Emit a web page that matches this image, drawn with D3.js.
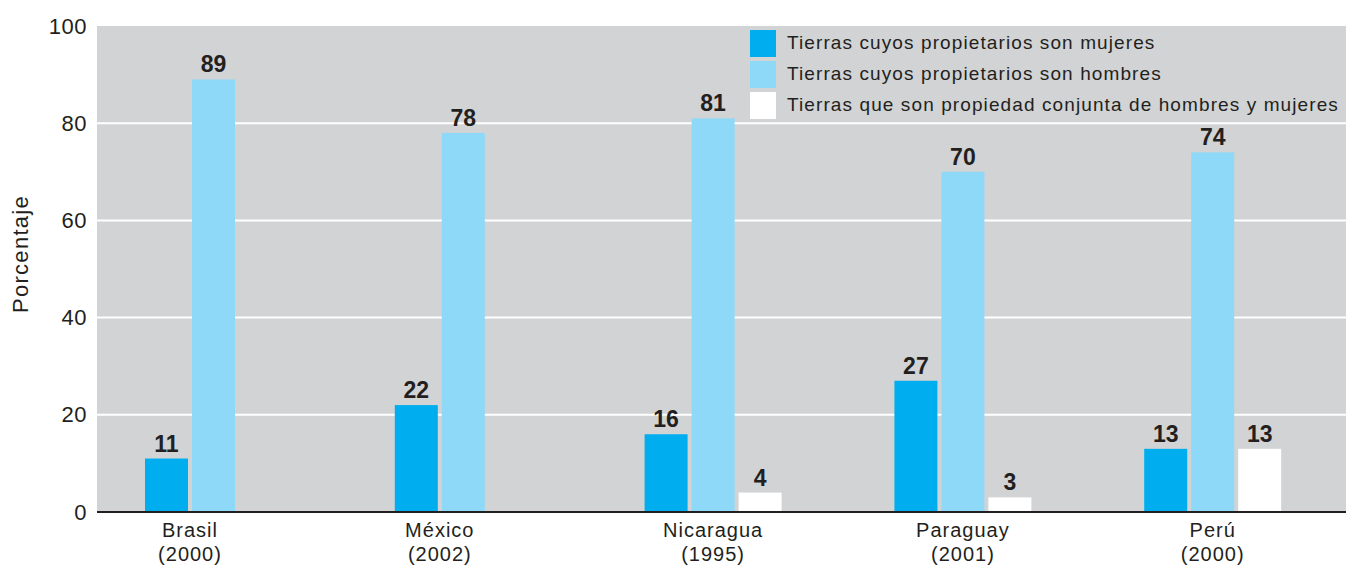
<!DOCTYPE html>
<html><head><meta charset="utf-8">
<script src="https://cdn.jsdelivr.net/npm/d3@7"></script>
<style>
body{margin:0;background:#fff}
text{font-family:"Liberation Sans",Arial,sans-serif;fill:#231f20}
</style></head><body>
<svg id="c" width="1346" height="565"></svg>
<script>
const countries=["Brasil","México","Nicaragua","Paraguay","Perú"];
const years=["(2000)","(2002)","(1995)","(2001)","(2000)"];
const seriesNames=["Tierras cuyos propietarios son mujeres","Tierras cuyos propietarios son hombres","Tierras que son propiedad conjunta de hombres y mujeres"];
const mujeres=[11,22,16,27,13];
const hombres=[89,78,81,70,74];
const conjunta=[null,null,4,3,13];
const yTicks=[0,20,40,60,80,100];
const colors=["#00aeef","#8ed8f8","#ffffff"];

const series=[mujeres,hombres,conjunta];
const svg=d3.select("#c");
const L=97,R=1346,T=26,B=512;
const y=d3.scaleLinear().domain([0,100]).range([B,T]);
const x0=d3.scaleBand().domain(countries).range([L,R]);
const x1=d3.scaleBand().domain([0,1,2]).range([48,185]).paddingInner(0.085);

svg.append("rect").attr("x",L).attr("y",T).attr("width",R-L).attr("height",B-T).attr("fill","#d1d3d4");
svg.append("g").selectAll("line").data(yTicks.filter(t=>t>0&&t<100)).join("line")
 .attr("x1",L).attr("x2",R).attr("y1",d=>y(d)).attr("y2",d=>y(d)).attr("stroke","#fff").attr("stroke-width",2);

const yAxis=svg.append("g").attr("transform",`translate(${L},0)`)
 .call(d3.axisLeft(y).tickValues(yTicks).tickSize(0).tickPadding(10));
yAxis.select(".domain").remove();
yAxis.selectAll("text").style("font-size","22px").style("letter-spacing","0.5px").attr("fill","#231f20").attr("font-family","Liberation Sans, Arial, sans-serif");

svg.append("text").attr("transform",`translate(28,254) rotate(-90)`).attr("text-anchor","middle")
 .style("font-size","22px").style("letter-spacing","1.3px").text("Porcentaje");

const groups=svg.append("g").selectAll("g").data(countries).join("g")
 .attr("transform",d=>`translate(${x0(d)},0)`);
groups.each(function(c,i){
  const g=d3.select(this);
  const items=series.map((s,k)=>({k,v:s[i]})).filter(d=>d.v!=null);
  g.selectAll("rect").data(items).join("rect")
   .attr("x",d=>x1(d.k)).attr("width",x1.bandwidth())
   .attr("y",d=>y(d.v)).attr("height",d=>y(0)-y(d.v)).attr("fill",d=>colors[d.k]);
  g.selectAll("text.v").data(items).join("text").attr("class","v")
   .attr("x",d=>x1(d.k)+x1.bandwidth()/2).attr("y",d=>y(d.v)-7)
   .attr("text-anchor","middle").style("font-size","23px").style("font-weight","bold").text(d=>d.v);
  const first=x1(items[0].k), last=x1(items[items.length-1].k)+x1.bandwidth();
  const cx=(first+last)/2;
  g.append("text").attr("x",cx).attr("y",537).attr("text-anchor","middle").style("font-size","20px").style("letter-spacing","1px").text(c);
  g.append("text").attr("x",cx).attr("y",561).attr("text-anchor","middle").style("font-size","20px").style("letter-spacing","1px").text(years[i]);
});

svg.append("line").attr("x1",L).attr("x2",R).attr("y1",B).attr("y2",B).attr("stroke","#231f20").attr("stroke-width",2);

const lg=svg.append("g").attr("transform","translate(750,30)");
const li=lg.selectAll("g").data(seriesNames).join("g").attr("transform",(d,i)=>`translate(0,${i*31})`);
li.append("rect").attr("width",26).attr("height",27).attr("fill",(d,i)=>colors[i]);
li.append("text").attr("x",37).attr("y",19).style("font-size","19px").style("letter-spacing","1.1px").text(d=>d);
</script></body></html>
